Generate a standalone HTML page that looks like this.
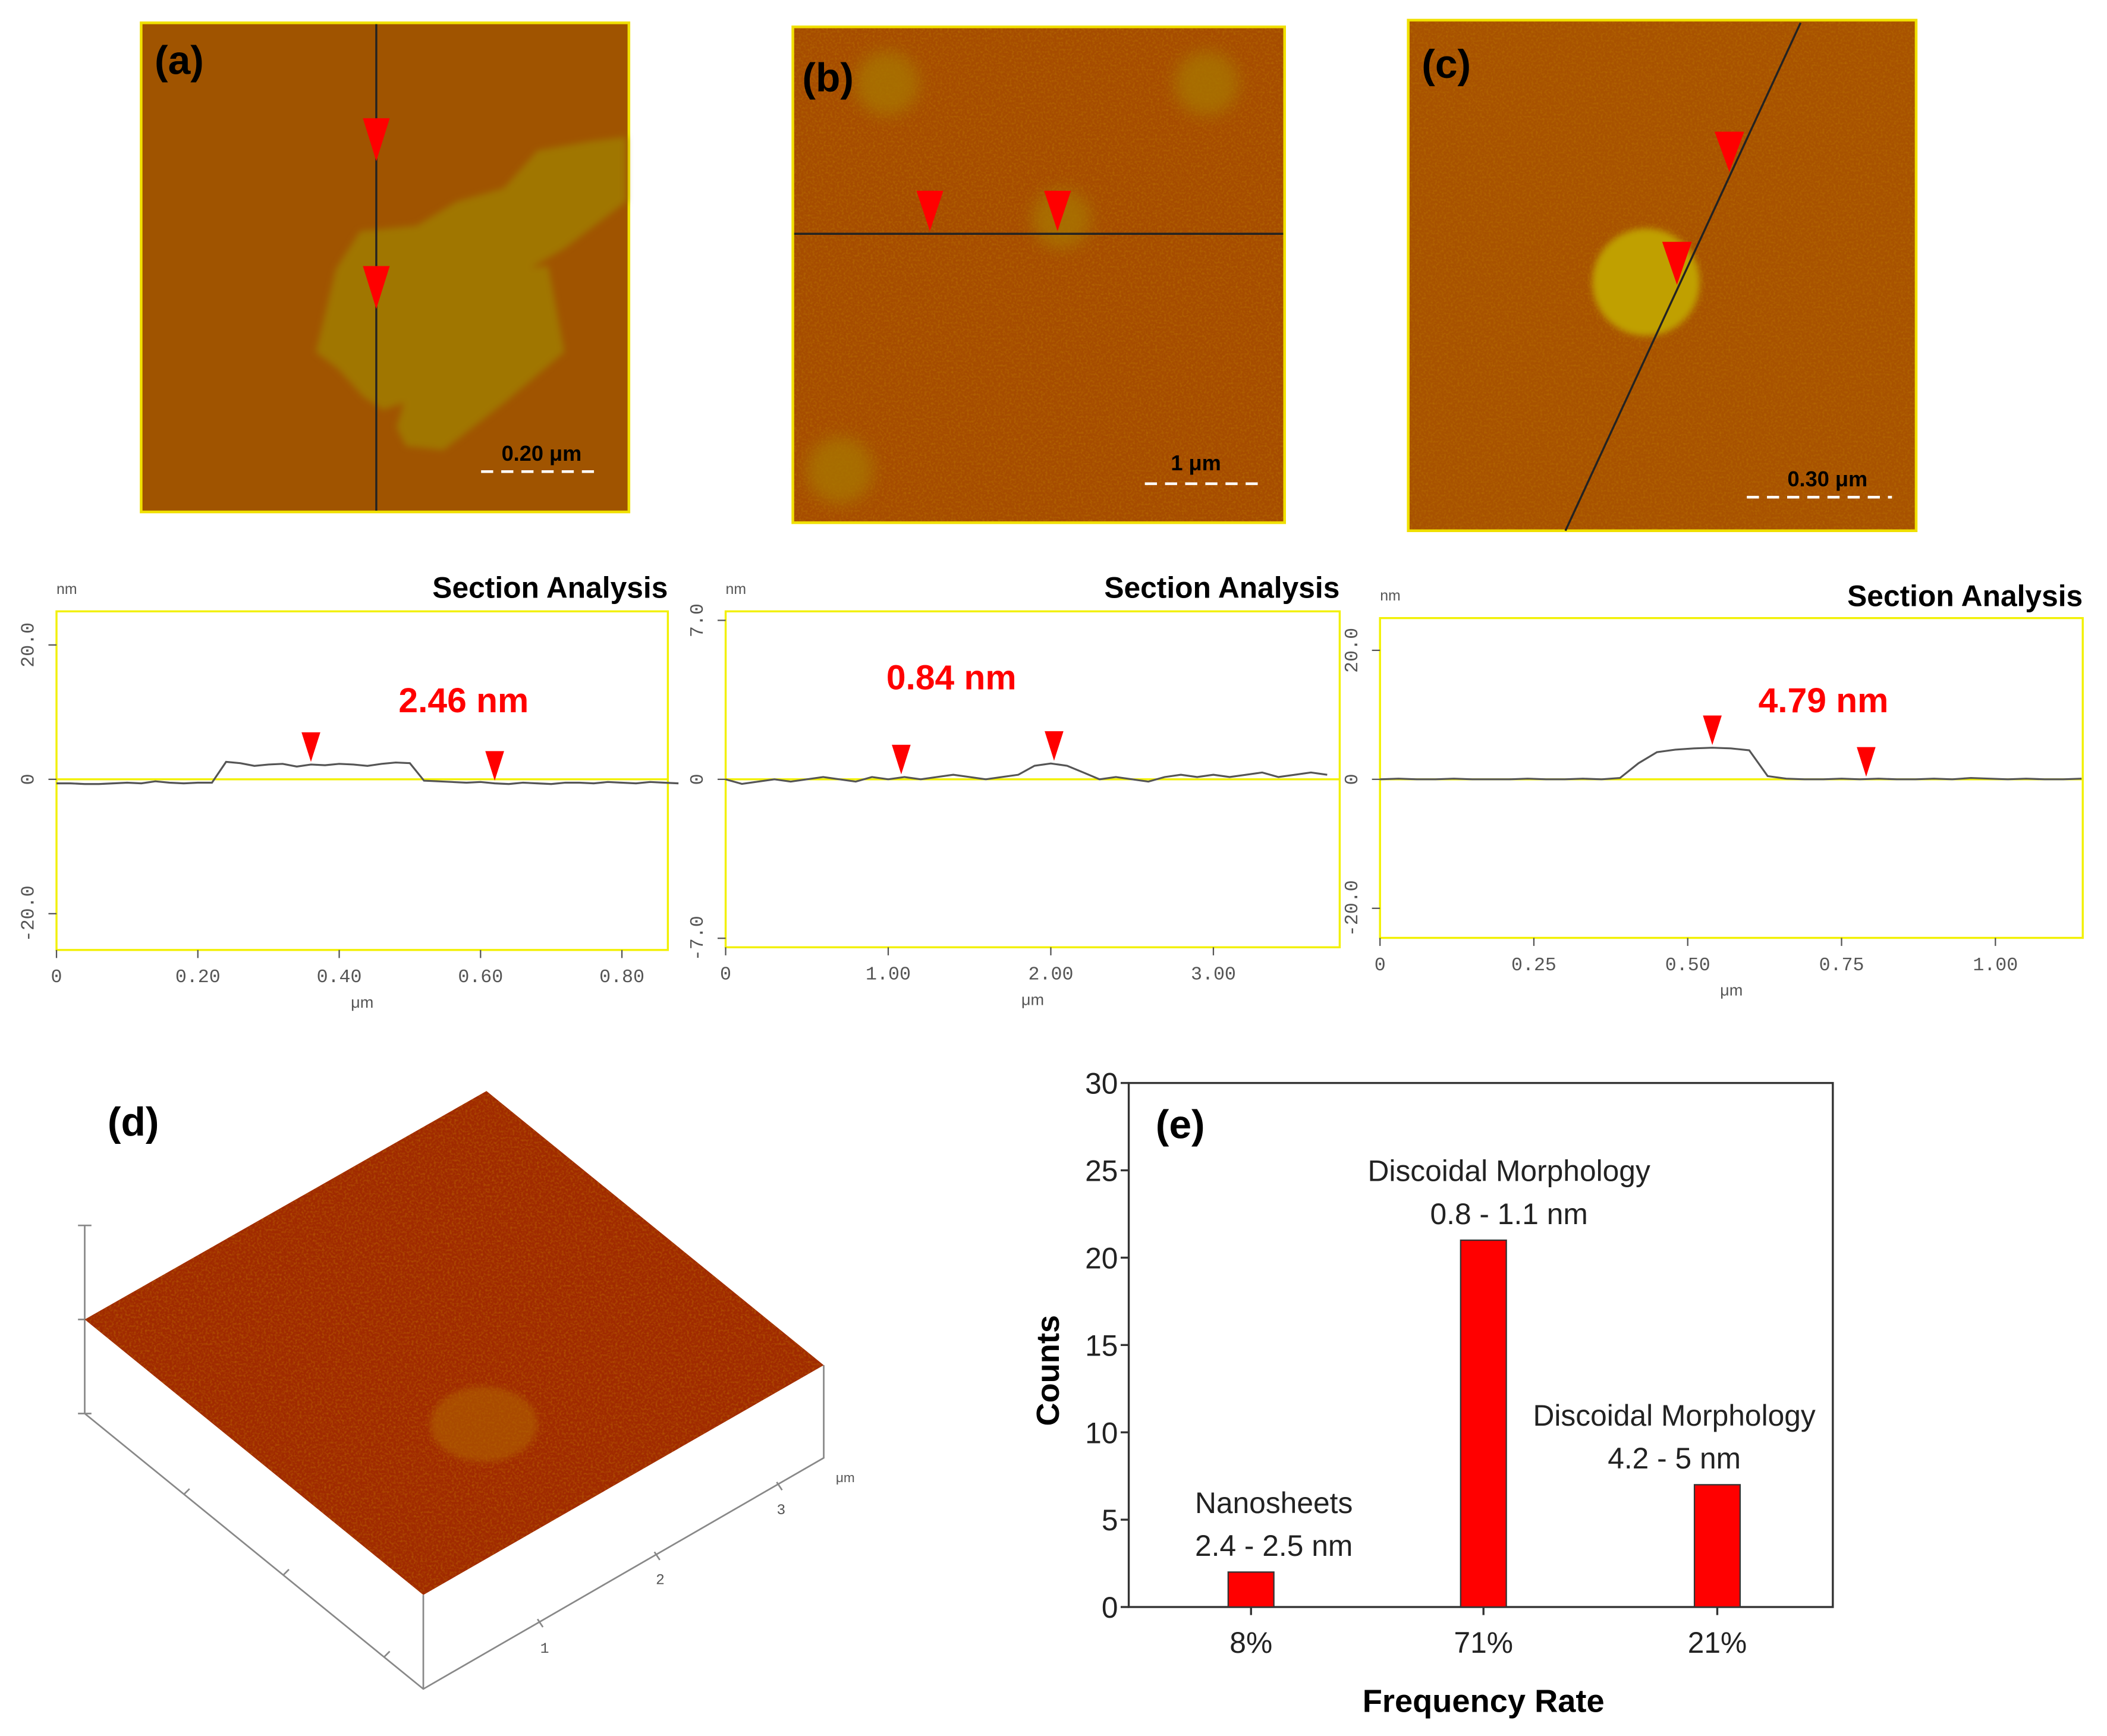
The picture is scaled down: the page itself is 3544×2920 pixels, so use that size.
<!DOCTYPE html>
<html><head><meta charset="utf-8"><style>
html,body{margin:0;padding:0;background:#fff}
svg{display:block}
text{font-family:"Liberation Sans",sans-serif}
.mono{font-family:"Liberation Mono",monospace}
</style></head><body>
<svg id="fig" width="3544" height="2920" viewBox="0 0 1568 1292" xmlns="http://www.w3.org/2000/svg">
<defs>
<filter id="noise" x="0" y="0" width="100%" height="100%">
<feTurbulence type="fractalNoise" baseFrequency="0.6" numOctaves="2" seed="3"/>
<feColorMatrix values="0 0 0 0 0.75  0 0 0 0 0.55  0 0 0 0 0  0 0 0 1.2 -0.5"/>
</filter>
<filter id="blur6"><feGaussianBlur stdDeviation="6"/></filter>
<filter id="blur3"><feGaussianBlur stdDeviation="2.5"/></filter>
<clipPath id="topclip"><polygon points="63,982 362,812 613,1016 315,1187"/></clipPath>
</defs>

<!-- Panel a -->
<g>
<rect x="105" y="17" width="363" height="364" fill="#a05400" stroke="#f0e000" stroke-width="2"/>
<g fill="#a07600" filter="url(#blur3)">
<path d="M235,262 L250,200 L268,172 L310,168 L340,150 L375,140 L400,112 L440,105 L466,102 L466,150 L420,185 L385,205 L365,225 L345,255 L320,285 L300,300 L285,305 L270,295 L252,275 Z"/>
<path d="M295,318 L305,285 L345,245 L385,200 L408,198 L420,262 L375,300 L330,335 L302,332 Z"/>
</g>
<line x1="280" y1="18" x2="280" y2="380" stroke="#222" stroke-width="1.5"/>
<polygon points="270,88 290,88 280,120" fill="#ff0000"/>
<polygon points="270,198 290,198 280,230" fill="#ff0000"/>
<text x="115" y="55" font-size="30" font-weight="bold">(a)</text>
<text x="403" y="343" font-size="16" font-weight="bold" text-anchor="middle">0.20 μm</text>
<line x1="358" y1="351" x2="443" y2="351" stroke="#fff" stroke-width="2" stroke-dasharray="9,6"/>
</g>

<!-- Panel b -->
<g>
<rect x="590" y="20" width="366" height="369" fill="#a64c00" stroke="#f0e000" stroke-width="2"/>
<rect x="591" y="21" width="364" height="367" filter="url(#noise)" opacity="0.35"/>
<g fill="#a87400" filter="url(#blur6)" opacity="0.8">
<circle cx="660" cy="62" r="24"/><circle cx="898" cy="62" r="24"/><circle cx="790" cy="163" r="22"/><circle cx="625" cy="350" r="25"/>
</g>
<line x1="591" y1="174" x2="955" y2="174" stroke="#222" stroke-width="1.5"/>
<polygon points="682,142 702,142 692,172" fill="#ff0000"/>
<polygon points="777,142 797,142 787,172" fill="#ff0000"/>
<text x="597" y="68" font-size="30" font-weight="bold">(b)</text>
<text x="890" y="350" font-size="16" font-weight="bold" text-anchor="middle">1 μm</text>
<line x1="852" y1="360" x2="938" y2="360" stroke="#fff" stroke-width="2" stroke-dasharray="9,6"/>
</g>

<!-- Panel c -->
<g>
<rect x="1048" y="15" width="378" height="380" fill="#a85200" stroke="#f0e000" stroke-width="2"/>
<rect x="1049" y="16" width="376" height="378" filter="url(#noise)" opacity="0.3"/>
<ellipse cx="1225" cy="210" rx="40" ry="40" fill="#c0a000" filter="url(#blur3)"/>
<line x1="1165" y1="395" x2="1340" y2="17" stroke="#222" stroke-width="1.5"/>
<polygon points="1276,98 1298,98 1287,128" fill="#ff0000"/>
<polygon points="1237,180 1259,180 1248,212" fill="#ff0000"/>
<text x="1058" y="58" font-size="30" font-weight="bold">(c)</text>
<text x="1360" y="362" font-size="16" font-weight="bold" text-anchor="middle">0.30 μm</text>
<line x1="1300" y1="370" x2="1408" y2="370" stroke="#fff" stroke-width="2" stroke-dasharray="9,6"/>
</g>

<g id="sections"></g>

<!-- Panel d -->
<g>
<text x="80" y="845" font-size="30" font-weight="bold">(d)</text>
<g stroke="#888" stroke-width="1.2" fill="none">
<polyline points="63,912 63,1052"/>
<line x1="58" y1="912" x2="68" y2="912"/><line x1="58" y1="982" x2="68" y2="982"/><line x1="58" y1="1052" x2="68" y2="1052"/>
<polyline points="63,1052 315,1257 613,1085 613,1016"/>
<line x1="315" y1="1187" x2="315" y2="1257"/>
<line x1="137" y1="1112" x2="141" y2="1108"/><line x1="211" y1="1172" x2="215" y2="1168"/><line x1="286" y1="1233" x2="290" y2="1229"/>
<line x1="400" y1="1205" x2="404" y2="1211"/><line x1="487" y1="1155" x2="491" y2="1161"/><line x1="578" y1="1103" x2="582" y2="1109"/>
</g>
<polygon points="63,982 362,812 613,1016 315,1187" fill="#a02a00"/>
<g clip-path="url(#topclip)">
<rect x="63" y="812" width="550" height="375" filter="url(#noise)" opacity="0.45"/>
<ellipse cx="360" cy="1060" rx="40" ry="28" fill="#b06000" opacity="0.6" filter="url(#blur3)"/>
</g>
<text x="402" y="1230" font-size="11" fill="#555" class="mono">1</text>
<text x="488" y="1179" font-size="11" fill="#555" class="mono">2</text>
<text x="578" y="1127" font-size="11" fill="#555" class="mono">3</text>
<text x="622" y="1103" font-size="10" fill="#555">μm</text>
</g>

<g id="chart-e"></g>
</svg>
<script>
const NS='http://www.w3.org/2000/svg';
// ---- section profile data (nm) ----
const profileA=[-0.6,-0.6,-0.7,-0.7,-0.6,-0.5,-0.6,-0.3,-0.5,-0.6,-0.5,-0.5,2.6,2.4,2.0,2.2,2.3,1.9,2.2,2.1,2.3,2.2,2.0,2.3,2.5,2.4,-0.2,-0.3,-0.4,-0.5,-0.4,-0.6,-0.7,-0.5,-0.6,-0.7,-0.5,-0.5,-0.6,-0.4,-0.5,-0.6,-0.4,-0.5,-0.6];
const profileB=[0,-0.2,-0.1,0,-0.1,0,0.1,0,-0.1,0.1,0,0.1,0,0.1,0.2,0.1,0,0.1,0.2,0.6,0.7,0.6,0.3,0,0.1,0,-0.1,0.1,0.2,0.1,0.2,0.1,0.2,0.3,0.1,0.2,0.3,0.2];
const profileC=[0,0.1,0,0,0.1,0,0,0,0.1,0,0,0.1,0,0.2,2.5,4.2,4.6,4.8,4.9,4.8,4.5,0.5,0.1,0,0,0.1,0,0.1,0,0,0.1,0,0.2,0.1,0,0.1,0,0,0.1];
const stepA=0.02, stepB=0.1, stepC=0.03;
const xTicksA=['0','0.20','0.40','0.60','0.80'], xTickValsA=[0,0.2,0.4,0.6,0.8];
const xTicksB=['0','1.00','2.00','3.00'], xTickValsB=[0,1,2,3];
const xTicksC=['0','0.25','0.50','0.75','1.00'], xTickValsC=[0,0.25,0.5,0.75,1.0];
const yTicksA=['20.0','0','-20.0'], yTickValsA=[20,0,-20];
const yTicksB=['7.0','0','-7.0'], yTickValsB=[7,0,-7];
const yTicksC=['20.0','0','-20.0'], yTickValsC=[20,0,-20];
const markersA=[0.36,0.62], markersB=[1.08,2.02], markersC=[0.54,0.79];
const heightLabels=['2.46 nm','0.84 nm','4.79 nm'];

function el(tag,attrs,parent,txt){const e=document.createElementNS(NS,tag);for(const k in attrs)e.setAttribute(k,attrs[k]);if(txt!==undefined)e.textContent=txt;parent.appendChild(e);return e;}

const secs=[
 {name:'a',x0:42,x1:497,y0:455,y1:707,zeroY:580,pxPerNm:5.0,pxPerUm:526,data:profileA,step:stepA,xt:xTicksA,xv:xTickValsA,yt:yTicksA,yv:yTickValsA,mk:markersA,lab:heightLabels[0],labX:345,labY:530,titleY:445,nmY:442},
 {name:'b',x0:540,x1:997,y0:455,y1:705,zeroY:580,pxPerNm:16.9,pxPerUm:121,data:profileB,step:stepB,xt:xTicksB,xv:xTickValsB,yt:yTicksB,yv:yTickValsB,mk:markersB,lab:heightLabels[1],labX:708,labY:513,titleY:445,nmY:442},
 {name:'c',x0:1027,x1:1550,y0:460,y1:698,zeroY:580,pxPerNm:4.8,pxPerUm:458,data:profileC,step:stepC,xt:xTicksC,xv:xTickValsC,yt:yTicksC,yv:yTickValsC,mk:markersC,lab:heightLabels[2],labX:1357,labY:530,titleY:451,nmY:447}
];
const sroot=document.getElementById('sections');
secs.forEach(s=>{
 const g=el('g',{},sroot);
 
 
 const X=v=>s.x0+v*s.pxPerUm, Y=v=>s.zeroY-v*s.pxPerNm;
 el('rect',{x:s.x0,y:s.y0,width:s.x1-s.x0,height:s.y1-s.y0,fill:'#fff',stroke:'#f2f000','stroke-width':1.5},g);
 el('line',{x1:s.x0,y1:Y(0),x2:s.x1,y2:Y(0),stroke:'#f2f000','stroke-width':1.5},g);
 const t=el('text',{x:s.x1,y:s.titleY,'font-size':22,'font-weight':'bold','text-anchor':'end'},g,'Section Analysis');
 
 
 el('text',{x:s.x0,y:s.nmY,'font-size':11,fill:'#555'},g,'nm');
 s.xv.forEach((v,i)=>{
  el('line',{x1:X(v),y1:s.y1,x2:X(v),y2:s.y1+6,stroke:'#555'},g);
  el('text',{x:X(v),y:s.y1+24,'font-size':14,fill:'#555','text-anchor':'middle',class:'mono'},g,s.xt[i]);
 });
 el('text',{x:(s.x0+s.x1)/2,y:s.y1+43,'font-size':12,fill:'#555','text-anchor':'middle'},g,'μm');
 s.yv.forEach((v,i)=>{
  el('line',{x1:s.x0-6,y1:Y(v),x2:s.x0,y2:Y(v),stroke:'#555'},g);
  el('text',{x:0,y:0,'font-size':14,fill:'#555','text-anchor':'middle',class:'mono',transform:`translate(${s.x0-17},${Y(v)}) rotate(-90)`},g,s.yt[i]);
 });
 const pts=s.data.map((v,i)=>X(i*s.step).toFixed(1)+','+Y(v).toFixed(1)).join(' ');
 const pl=el('polyline',{points:pts,fill:'none',stroke:'#555','stroke-width':1.4},g);
 
 
 s.mk.forEach(m=>{
  const idx=Math.min(s.data.length-1,Math.round(m/s.step));
  const yy=Y(s.data[idx]);
  el('polygon',{points:`${X(m)-7},${yy-24} ${X(m)+7},${yy-24} ${X(m)},${yy-2}`,fill:'#ff0000'},g);
 });
 const hl=el('text',{x:s.labX,y:s.labY,'font-size':26,'font-weight':'bold',fill:'#ff0000','text-anchor':'middle'},g,s.lab);
 
 
});

// ---- panel e bar chart ----
const categories=['8%','71%','21%'];
const counts=[2,21,7];
const yTickLabels=['0','5','10','15','20','25','30'];
const yTickValues=[0,5,10,15,20,25,30];
const annotations=[['Nanosheets','2.4 - 2.5 nm'],['Discoidal Morphology','0.8 - 1.1 nm'],['Discoidal Morphology','4.2 - 5 nm']];
const ex0=840,ex1=1364,ey0=806,ey1=1196,yMax=30;
const barCenters=[931,1104,1278];
const ey=v=>ey1-v/yMax*(ey1-ey0);
const ce=document.getElementById('chart-e');


el('rect',{x:ex0,y:ey0,width:ex1-ex0,height:ey1-ey0,fill:'none',stroke:'#333','stroke-width':1.5},ce);
yTickValues.forEach((v,i)=>{
 el('line',{x1:ex0-6,y1:ey(v),x2:ex0,y2:ey(v),stroke:'#333','stroke-width':1.5},ce);
 el('text',{x:ex0-8,y:ey(v)+8,'font-size':22,fill:'#222','text-anchor':'end'},ce,yTickLabels[i]);
});
counts.forEach((v,i)=>{
 const cx=barCenters[i];
 const b=el('rect',{x:cx-17,y:ey(v),width:34,height:ey(0)-ey(v),fill:'#ff0000',stroke:'#333','stroke-width':1},ce);
 
 
 el('line',{x1:cx,y1:ey1,x2:cx,y2:ey1+6,stroke:'#333','stroke-width':1.5},ce);
 el('text',{x:cx,y:ey1+34,'font-size':22,fill:'#222','text-anchor':'middle'},ce,categories[i]);
 const tx=i===0?948:(i===1?1123:1246);
 const a1=el('text',{x:tx,y:ey(v)-44,'font-size':22,fill:'#222','text-anchor':'middle'},ce,annotations[i][0]);
 
 
 el('text',{x:tx,y:ey(v)-12,'font-size':22,fill:'#222','text-anchor':'middle'},ce,annotations[i][1]);
});
el('text',{x:1104,y:1274,'font-size':24,'font-weight':'bold','text-anchor':'middle'},ce,'Frequency Rate');
el('text',{x:0,y:0,'font-size':24,'font-weight':'bold','text-anchor':'middle',transform:'translate(788,1020) rotate(-90)'},ce,'Counts');
el('text',{x:860,y:847,'font-size':30,'font-weight':'bold'},ce,'(e)');
</script>
</body></html>
